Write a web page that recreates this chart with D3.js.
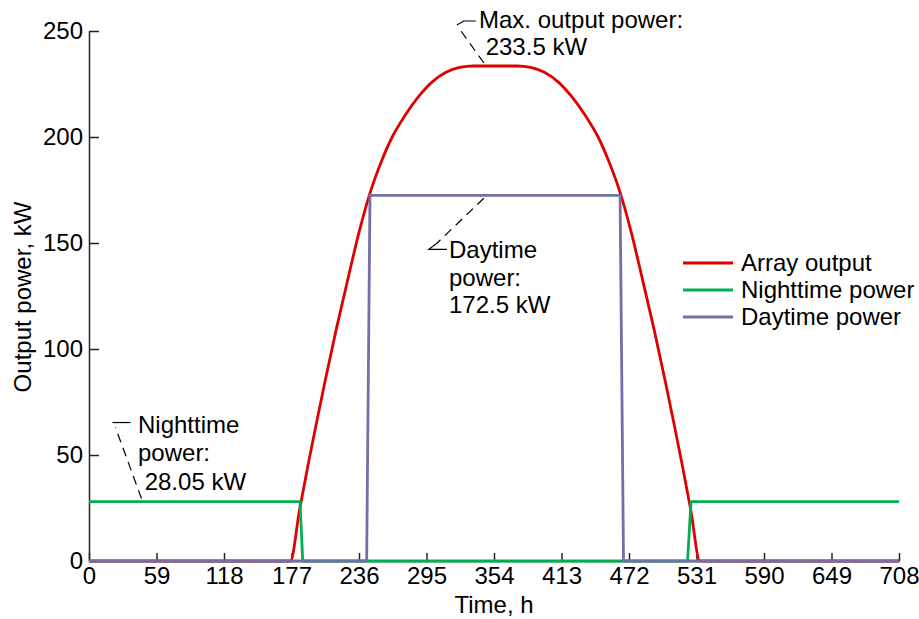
<!doctype html>
<html lang="en">
<head>
<meta charset="utf-8">
<title>Array output power</title>
<script src="https://cdn.jsdelivr.net/npm/d3@7"></script>
<style>
  body { margin: 0; background: #fff; }
  text { font-family: "Liberation Sans", Arial, sans-serif; fill: #000; }
  .axis path, .axis line { stroke: #222; stroke-width: 1.5; }
  .axis text { font-size: 24px; }
</style>
</head>
<body>
<div id="chart"></div>
<script>
// time ticks (h)
var xTicks = [0, 59, 118, 177, 236, 295, 354, 413, 472, 531, 590, 649, 708];
var yTicks = [0, 50, 100, 150, 200, 250];

// array output, kW
var arrayTime  = [0, 176, 184, 191, 198, 206, 216, 228, 236, 245, 256, 265, 276, 288, 300, 312, 324, 336,
                  374, 386, 398, 410, 422, 434, 445, 454, 465, 474, 482, 494, 504, 512, 519, 526, 534, 708];
var arrayPower = [0, 0, 24, 44, 63, 84, 109, 137, 155, 172.5, 189, 200, 210, 219, 226, 230.5, 232.8, 233.5,
                  233.5, 232.8, 230.5, 226, 219, 210, 200, 189, 172.5, 155, 137, 109, 84, 63, 44, 24, 0, 0];

var nightTime  = [0, 184.4, 186.8, 523.2, 526.2, 708];
var nightPower = [28.05, 28.05, 0, 0, 28.05, 28.05];

var dayTime  = [0, 242.7, 245.6, 464.2, 467.2, 708];
var dayPower = [0, 0, 172.5, 172.5, 0, 0];

var seriesNames = ["Array output", "Nighttime power", "Daytime power"];
var seriesColors = ["#e00000", "#00b050", "#7171a6"];

(function () {
    var width = 919, height = 619;

    var svg = d3.select("#chart").append("svg")
        .attr("width", width)
        .attr("height", height);

    var x = d3.scaleLinear().domain([0, 708]).range([89, 899]);
    var y = d3.scaleLinear().domain([0, 250]).range([561, 31]);

    // axes, ticks pointing inward
    svg.append("g")
        .attr("class", "axis")
        .attr("transform", "translate(0," + y(0) + ")")
        .call(d3.axisBottom(x).tickValues(xTicks).tickSizeInner(-8).tickSizeOuter(0).tickPadding(6));

    svg.append("g")
        .attr("class", "axis")
        .attr("transform", "translate(" + x(0) + ",0)")
        .call(d3.axisLeft(y).tickValues(yTicks).tickSizeInner(-10).tickSizeOuter(0).tickPadding(6));

    svg.append("text")
        .attr("x", 494).attr("y", 613)
        .attr("text-anchor", "middle")
        .style("font-size", "24px")
        .text("Time, h");

    svg.append("text")
        .attr("transform", "translate(31,297) rotate(-90)")
        .attr("text-anchor", "middle")
        .style("font-size", "24px")
        .text("Output power, kW");

    // lines
    var series = [
        { t: arrayTime, p: arrayPower, curve: d3.curveMonotoneX },
        { t: nightTime, p: nightPower, curve: d3.curveLinear },
        { t: dayTime, p: dayPower, curve: d3.curveLinear }
    ];

    series.forEach(function (s, i) {
        var line = d3.line()
            .x(function (d) { return x(d[0]); })
            .y(function (d) { return y(d[1]); })
            .curve(s.curve);
        svg.append("path")
            .datum(d3.zip(s.t, s.p))
            .attr("d", line)
            .attr("fill", "none")
            .attr("stroke", seriesColors[i])
            .attr("stroke-width", 2.8)
            .attr("stroke-linejoin", "round");
    });

    // annotations: anchor on data, text and leader offsets in px
    var notes = [
        { t: 346, p: 233.5, lines: ["Max. output power:", " 233.5 kW"], tx: 479, ty: 28, dy: 27,
          dash: [[-1, -3], [-26, -38]], solid: [[-28, -41], [-21, -45], [-9, -45]] },
        { t: 346, p: 172.5, lines: ["Daytime", "power:", "172.5 kW"], tx: 449, ty: 258, dy: 27.5,
          dash: [[-1, 3], [-48, 48]], solid: [[-48, 48], [-56, 54], [-38, 54]] },
        { t: 45, p: 28.05, lines: ["Nighttime", "power:", " 28.05 kW"], tx: 138, ty: 433, dy: 28.3,
          dash: [[1, -3], [-25, -74]], solid: [[-28, -79], [-10, -79]] }
    ];

    notes.forEach(function (n) {
        var ax = x(n.t), ay = y(n.p);
        var pts = function (arr) { return arr.map(function (d) { return [ax + d[0], ay + d[1]]; }); };
        svg.append("path")
            .attr("d", d3.line()(pts(n.dash)))
            .attr("fill", "none").attr("stroke", "#000").attr("stroke-width", 1.2)
            .attr("stroke-dasharray", "9,6");
        svg.append("path")
            .attr("d", d3.line()(pts(n.solid)))
            .attr("fill", "none").attr("stroke", "#000").attr("stroke-width", 1.2);
        var txt = svg.append("text")
            .attr("x", n.tx).attr("y", n.ty)
            .style("font-size", "24px")
            .attr("xml:space", "preserve")
            .style("white-space", "pre");
        n.lines.forEach(function (l, i) {
            txt.append("tspan").attr("x", n.tx).attr("y", n.ty + i * n.dy).text(l);
        });
    });

    // legend
    var legend = svg.append("g").attr("transform", "translate(683,263)");
    seriesNames.forEach(function (name, i) {
        var g = legend.append("g").attr("transform", "translate(0," + i * 27 + ")");
        g.append("line")
            .attr("x1", 0).attr("x2", 50)
            .attr("stroke", seriesColors[i]).attr("stroke-width", 2.8);
        g.append("text")
            .attr("x", 58).attr("y", 8)
            .style("font-size", "24px")
            .text(name);
    });
})();
</script>
</body>
</html>
